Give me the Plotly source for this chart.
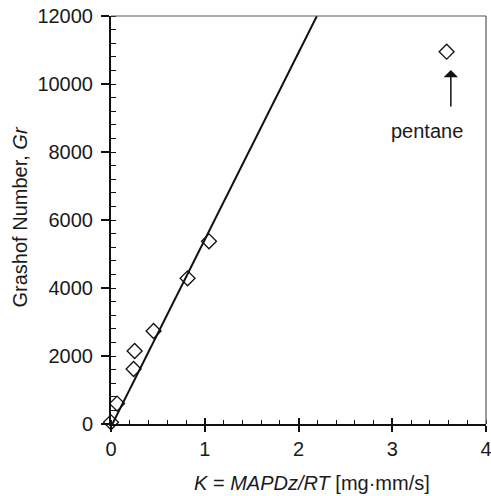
import plotly.graph_objects as go

# Data
k_values = [0.0, 0.065, 0.241, 0.252, 0.454, 0.817, 1.045]
gr_values = [50, 600, 1618, 2147, 2735, 4285, 5374]
pentane_k = [3.58]
pentane_gr = [10950]
fit_k = [0.0, 2.196]
fit_gr = [-80, 12000]
x_ticks = [0, 1, 2, 3, 4]
y_ticks = [0, 2000, 4000, 6000, 8000, 10000, 12000]
y_tick_labels = ["0", "2000", "4000", "6000", "8000", "10000", "12000"]

FONT = "Liberation Sans, Arial, sans-serif"
TXT = "#1a1a1a"

fig = go.Figure()
fig.add_trace(go.Scatter(x=fit_k, y=fit_gr, mode="lines",
                         line=dict(color="#111111", width=2), showlegend=False))
fig.add_trace(go.Scatter(x=k_values, y=gr_values, mode="markers",
                         marker=dict(symbol="diamond-open", size=11.5,
                                     color="#111111", line=dict(width=1.3)),
                         showlegend=False, cliponaxis=False))
fig.add_trace(go.Scatter(x=pentane_k, y=pentane_gr, mode="markers",
                         marker=dict(symbol="diamond-open", size=11.5,
                                     color="#111111", line=dict(width=1.3)),
                         showlegend=False))
# helper trace so the overlay axis (inner halves of major x ticks) is drawn
fig.add_trace(go.Scatter(x=[], y=[], xaxis="x2", showlegend=False))

fig.update_layout(
    width=491, height=496,
    margin=dict(l=111, r=5, t=16, b=72, autoexpand=False),
    paper_bgcolor="white", plot_bgcolor="white",
    font=dict(family=FONT, size=20, color=TXT),
    xaxis=dict(range=[0, 4], tickvals=x_ticks, ticks="outside", ticklen=6,
               tickwidth=1.5, tickcolor="#111111", automargin=False,
               showline=True, linecolor="#111111", linewidth=2,
               showgrid=False, zeroline=False, ticklabelstandoff=0,
               ticklabeloverflow="allow",
               minor=dict(dtick=0.2, ticks="inside", ticklen=4,
                          tickwidth=1.3, tickcolor="#111111", showgrid=False),
               tickfont=dict(size=20, color=TXT)),
    xaxis2=dict(range=[0, 4], overlaying="x", anchor="y", side="bottom",
                tickvals=x_ticks, ticks="inside", ticklen=6, tickwidth=1.5,
                tickcolor="#111111", showticklabels=False, showline=False,
                showgrid=False, zeroline=False, automargin=False),
    yaxis=dict(range=[0, 12000], tickvals=y_ticks, ticktext=y_tick_labels,
               ticks="outside", ticklen=8, automargin=False,
               tickwidth=1.5, tickcolor="#111111",
               showline=True, linecolor="#111111", linewidth=2,
               showgrid=False, zeroline=False, ticklabelstandoff=4,
               ticklabeloverflow="allow",
               minor=dict(dtick=400, ticks="inside", ticklen=5,
                          tickwidth=1.3, tickcolor="#111111", showgrid=False),
               tickfont=dict(size=20, color=TXT)),
    shapes=[
        dict(type="line", xref="paper", yref="paper", x0=0, x1=1, y0=1, y1=1,
             line=dict(color="#555555", width=1.2)),
        dict(type="line", xref="paper", yref="paper", x0=1, x1=1, y0=0, y1=1,
             line=dict(color="#555555", width=1.2)),
    ],
    annotations=[
        dict(text="<i>K</i> = <i>MAPDz/RT</i> [mg·mm/s]", xref="paper", yref="paper",
             x=0.5364, y=-0.1446, xanchor="center", yanchor="middle",
             showarrow=False, font=dict(size=20, color=TXT)),
        dict(text="Grashof Number, <i>Gr</i>", xref="paper", yref="paper",
             x=-0.2417, y=0.507, xanchor="center", yanchor="middle",
             textangle=-90, showarrow=False, font=dict(size=20, color=TXT)),
        dict(text="pentane", x=3.37, y=8618, xref="x", yref="y",
             xanchor="center", yanchor="middle", showarrow=False,
             font=dict(size=20, color=TXT)),
        dict(text="", x=3.625, y=10412, ax=3.625, ay=9294, xref="x", yref="y",
             axref="x", ayref="y", showarrow=True, arrowhead=1, arrowsize=1.6,
             arrowwidth=1.5, arrowcolor="#111111", standoff=0),
    ],
)

fig.write_html("out.html", config={"displayModeBar": False},
               post_script="document.body.style.margin='0';"
                           "document.body.style.overflow='hidden';")
